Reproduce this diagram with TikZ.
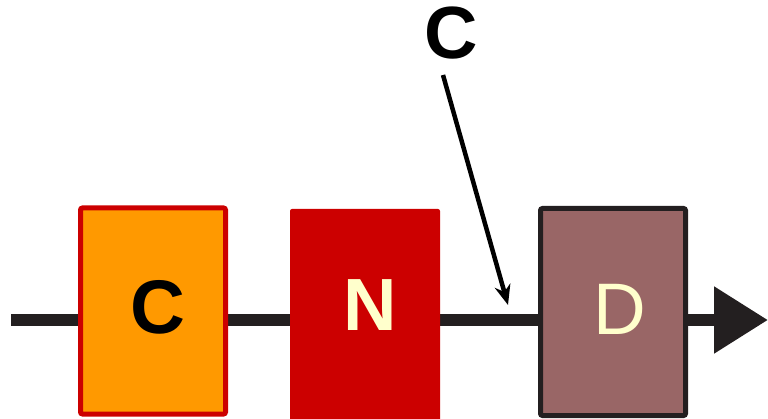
\documentclass[tikz,border=0pt]{standalone}
\usepackage{fontspec}
\setmainfont{Liberation Sans}
\usetikzlibrary{arrows.meta}
\definecolor{boxorange}{HTML}{FF9900}
\definecolor{boxred}{HTML}{CC0000}
\definecolor{boxbrown}{HTML}{996666}
\definecolor{cream}{HTML}{FFFFCC}
\definecolor{darkline}{HTML}{231F20}
\tikzset{
  blk/.style={rectangle, rounded corners=2pt, minimum width=145pt, minimum height=206pt, inner sep=0pt},
  bigtxt/.style={font=\fontsize{76}{76}\selectfont, inner sep=0pt},
  mainline/.style={line width=12pt, draw=darkline},
  pointer/.style={line width=4.5pt, -{Stealth[length=20pt,width=16pt]}}
}
\begin{document}
\begin{tikzpicture}[x=1pt,y=-1pt]
\useasboundingbox (0,0) rectangle (768,419);
\coordinate (s) at (11,320);
\coordinate (e) at (768,320);
\draw[mainline, -{Triangle[length=54pt,width=64pt]}] (s) -- (e);
\node[blk, fill=boxorange, draw=boxred, line width=5pt] (bc) at (153,311) {};
\node[blk, fill=boxred, minimum width=150pt, minimum height=214pt] (bn) at (365,316) {};
\node[blk, fill=boxbrown, draw=darkline, line width=5pt, minimum height=207pt] (bd) at (613,312) {};
\node[bigtxt, font=\fontsize{76}{76}\selectfont\bfseries] (tc) at (158,307) {C};
\node[bigtxt, font=\fontsize{74}{74}\selectfont\bfseries, text=cream] (tn) at (370,305) {N};
\node[bigtxt, font=\fontsize{73}{73}\selectfont, text=cream] (td) at (620,309) {D};
\node[bigtxt, font=\fontsize{74}{74}\selectfont\bfseries] (top) at (451,33) {C};
\coordinate (ptail) at (443,75);
\coordinate (phead) at (508,305);
\draw[pointer] (ptail) -- (phead);
\end{tikzpicture}
\end{document}
